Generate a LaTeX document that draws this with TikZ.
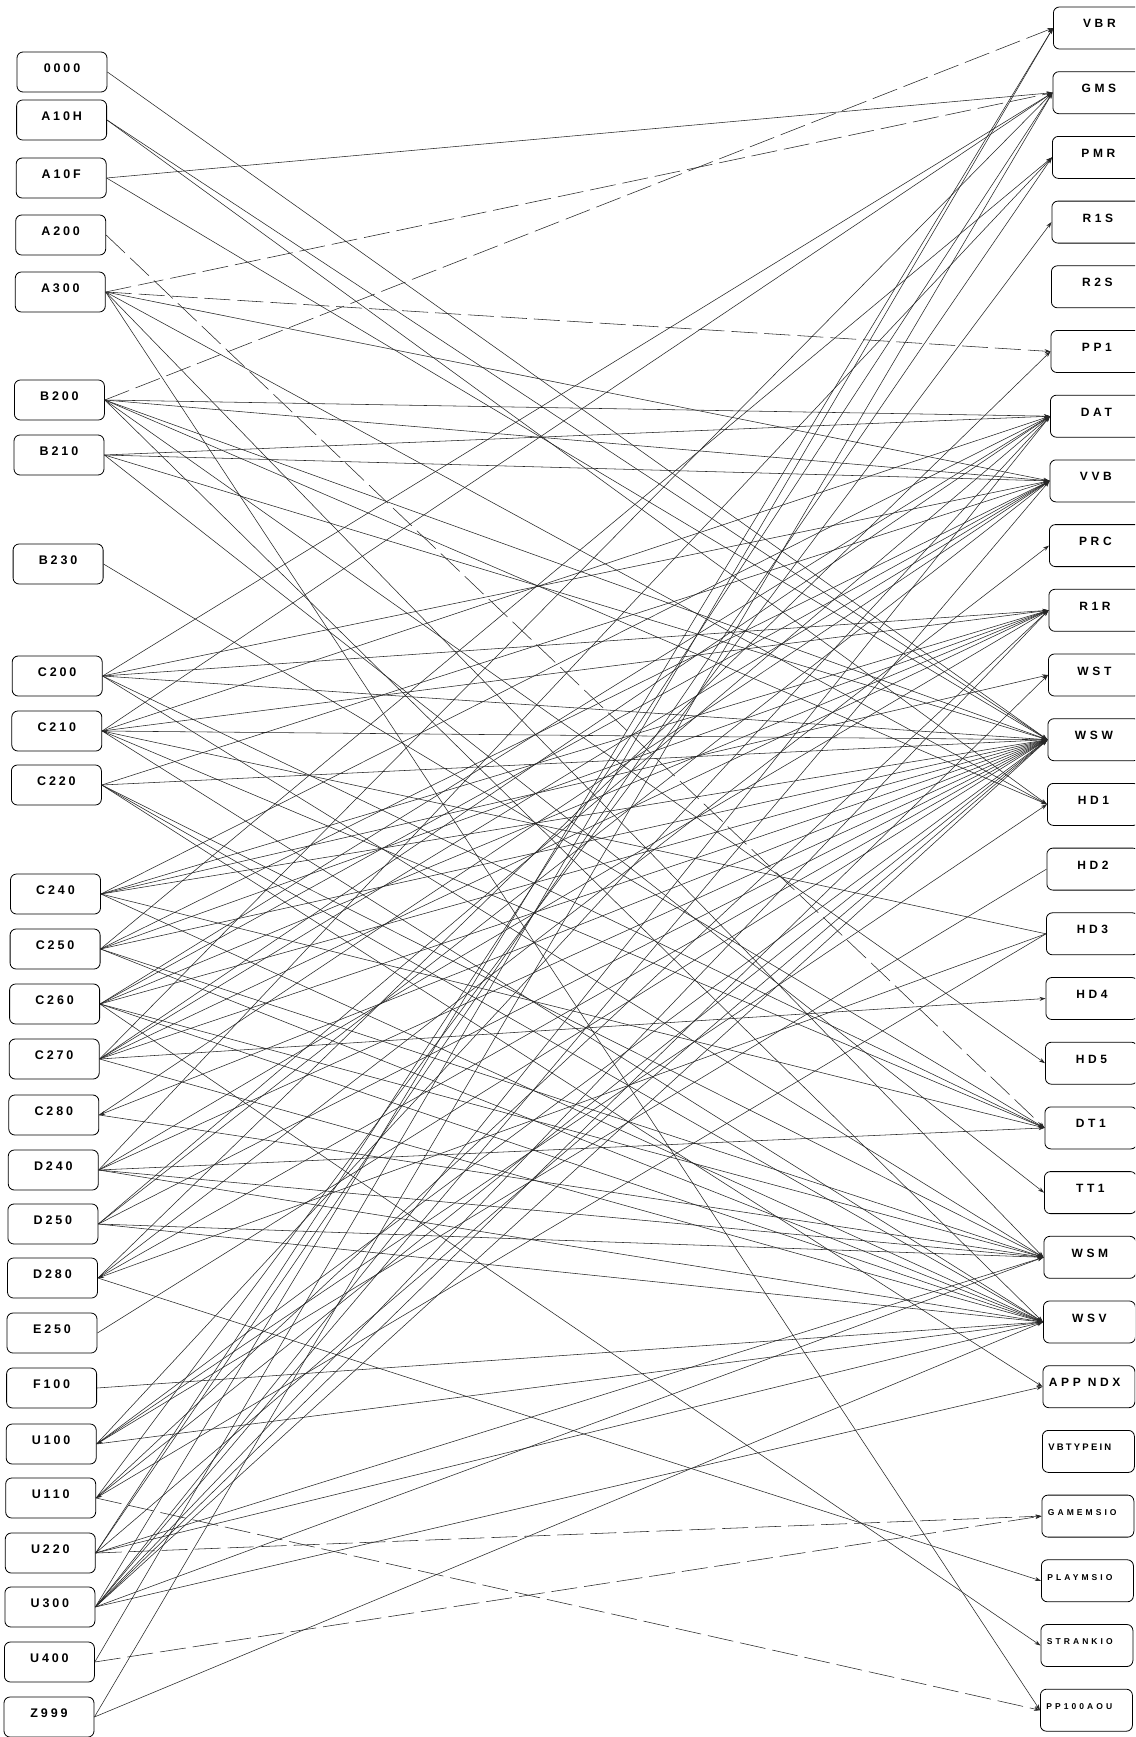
\documentclass[tikz,border=0pt]{standalone}
\usepackage{fontspec}
\setmainfont{Liberation Sans}
\newfontfamily\lfont[LetterSpace=23]{Liberation Sans}
\newfontfamily\rfont[LetterSpace=30]{Liberation Sans}
\newfontfamily\sfont[LetterSpace=36]{Liberation Sans}
\usetikzlibrary{arrows.meta}
\tikzset{
  lbox/.style={draw, rounded corners=6pt, line width=0.8pt, minimum width=90pt, minimum height=40pt,
    inner sep=0pt, font=\lfont\bfseries\fontsize{12.5}{12.5}\selectfont, text height=9pt, text depth=9pt},
  rbox/.style={draw, rounded corners=6pt, line width=0.8pt, minimum width=92pt, minimum height=42pt,
    anchor=west, inner sep=0pt, font=\rfont\bfseries\fontsize{12}{12}\selectfont, text height=9pt, text depth=9pt},
  rlong/.style={rbox, align=left, text width=80pt},
  rsmall/.style={rlong, font=\sfont\bfseries\fontsize{8.5}{8.5}\selectfont, text height=6.5pt, text depth=8pt},
  rmid/.style={rlong, font=\lfont\bfseries\fontsize{9.5}{9.5}\selectfont, text height=7pt, text depth=8pt},
  link/.style={line width=0.55pt, draw=black!85, -{Stealth[length=6pt,width=4pt]}},
  dlink/.style={link, dash pattern=on 26pt off 7pt},
  rlink/.style={line width=0.55pt, draw=black!85, {Stealth[length=6pt,width=4pt]}-}
}
\begin{document}
\begin{tikzpicture}[x=1pt,y=-1pt]
\useasboundingbox (0,0) rectangle (1135,1737);
\fill[white] (0,0) rectangle (1135,1737);
\clip (0,0) rectangle (1135,1737);
% left column
\node[lbox] (n0000) at (62,72) {0000};
\node[lbox] (A10H) at (61.6,120) {A10H};
\node[lbox] (A10F) at (61.2,178) {A10F};
\node[lbox] (A200) at (60.7,235) {A200};
\node[lbox] (A300) at (60.3,292) {A300};
\node[lbox] (B200) at (59.4,400) {B200};
\node[lbox] (B210) at (59,455) {B210};
\node[lbox] (B230) at (58.1,564) {B230};
\node[lbox] (C200) at (57.2,676) {C200};
\node[lbox] (C210) at (56.8,731) {C210};
\node[lbox] (C220) at (56.4,785) {C220};
\node[lbox] (C240) at (55.5,894) {C240};
\node[lbox] (C250) at (55.1,949) {C250};
\node[lbox] (C260) at (54.6,1004) {C260};
\node[lbox] (C270) at (54.2,1059) {C270};
\node[lbox] (C280) at (53.8,1115) {C280};
\node[lbox] (D240) at (53.3,1170) {D240};
\node[lbox] (D250) at (52.9,1224) {D250};
\node[lbox] (D280) at (52.5,1278) {D280};
\node[lbox] (E250) at (52,1333) {E250};
\node[lbox] (F100) at (51.6,1388) {F100};
\node[lbox] (U100) at (51.2,1444) {U100};
\node[lbox] (U110) at (50.7,1498) {U110};
\node[lbox] (U220) at (50.3,1553) {U220};
\node[lbox] (U300) at (49.9,1607) {U300};
\node[lbox] (U400) at (49.4,1662) {U400};
\node[lbox] (Z999) at (49,1717) {Z999};
% right column
\node[rbox] (VBR) at (1053,28) {VBR};
\node[rbox] (GMS) at (1052.5,92.7) {GMS};
\node[rbox] (PMR) at (1052,157.4) {PMR};
\node[rbox] (R1S) at (1051.5,222.1) {R1S};
\node[rbox] (R2S) at (1051,286.8) {R2S};
\node[rbox] (PP1) at (1050.5,351.5) {PP1};
\node[rbox] (DAT) at (1050,416.2) {DAT};
\node[rbox] (VVB) at (1049.5,480.9) {VVB};
\node[rbox] (PRC) at (1049,545.6) {PRC};
\node[rbox] (R1R) at (1048.5,610.3) {R1R};
\node[rbox] (WST) at (1048,675) {WST};
\node[rbox] (WSW) at (1047.5,739.7) {WSW};
\node[rbox] (HD1) at (1047,804.4) {HD1};
\node[rbox] (HD2) at (1046.5,869.1) {HD2};
\node[rbox] (HD3) at (1046,933.8) {HD3};
\node[rbox] (HD4) at (1045.5,998.5) {HD4};
\node[rbox] (HD5) at (1045,1063.2) {HD5};
\node[rbox] (DT1) at (1044.5,1127.9) {DT1};
\node[rbox] (TT1) at (1044,1192.6) {TT1};
\node[rbox] (WSM) at (1043.5,1257.3) {WSM};
\node[rbox] (WSV) at (1043,1322) {WSV};
\node[rlong] (APPNDX) at (1042.5,1386.7) {APP\hspace{7pt}NDX};
\node[rmid] (VBTYPEIN) at (1042,1451.4) {VBTYPEIN};
\node[rsmall] (GAMEMSIO) at (1041.5,1516.1) {GAMEMSIO};
\node[rsmall] (PLAYMSIO) at (1041,1580.8) {PLAYMSIO};
\node[rsmall] (STRANKIO) at (1040.5,1645.5) {STRANKIO};
\node[rsmall] (PP100AOU) at (1040,1710.2) {PP100AOU};
% connectors
\foreach \a/\b in {n0000/WSW, A10H/WSW, A10H/HD1, A10F/GMS, A10F/WSW,
  A300/VVB, A300/HD1, A300/WSM, A300/PP100AOU,
  B200/DAT, B200/VVB, B200/WSW, B200/HD1, B200/HD5, B200/WSV,
  B210/DAT, B210/VVB, B210/WSW, B210/TT1, B230/DT1,
  C200/GMS, C200/VVB, C200/R1R, C200/WSW, C200/DT1, C200/WSM,
  C210/GMS, C210/DAT, C210/R1R, C210/WSW, C210/DT1, C210/WSV,
  C220/VVB, C220/WSW, C220/WSM, C220/WSV, C220/APPNDX,
  C240/DAT, C240/R1R, C240/WST, C240/WSW, C240/DT1, C240/WSV,
  C250/PMR, C250/VVB, C250/R1R, C250/WSW, C250/WSM, C250/WSV,
  C260/DAT, C260/VVB, C260/R1R, C260/WSW, C260/WSM, C260/WSV, C260/STRANKIO,
  C270/GMS, C270/DAT, C270/VVB, C270/R1R, C270/WSW, C270/HD4, C270/WSV,
  C280/VVB, C280/WSM,
  D240/PMR, D240/R1R, D240/WSW, D240/DT1, D240/WSM, D240/WSV,
  D250/DAT, D250/VVB, D250/WSW, D250/WSM, D250/WSV,
  D280/PP1, D280/PRC, D280/WSW, D280/PLAYMSIO,
  E250/WSW, F100/WSV,
  U100/DAT, U100/WSW, U100/HD1, U100/WSV,
  U110/R1S, U110/R1R, U110/WSW,
  U220/GMS, U220/PMR, U220/WSW, U220/WSM, U220/WSV,
  U300/VBR, U300/DAT, U300/VVB, U300/R1R, U300/WST, U300/WSW, U300/WSM, U300/APPNDX,
  U400/VBR, Z999/GMS, Z999/WSV}
  \draw[link] (\a.east) -- (\b.west);
\foreach \a/\b in {A300/PP1, A300/GMS, B200/VBR, A200/DT1, U110/PP100AOU,
  U220/GAMEMSIO, U400/GAMEMSIO}
  \draw[dlink] (\a.east) -- (\b.west);
\foreach \a/\b in {C280/WSW, D280/HD3, U110/HD3, U100/HD2, C210/HD3}
  \draw[rlink] (\a.east) -- (\b.west);
\end{tikzpicture}
\end{document}
